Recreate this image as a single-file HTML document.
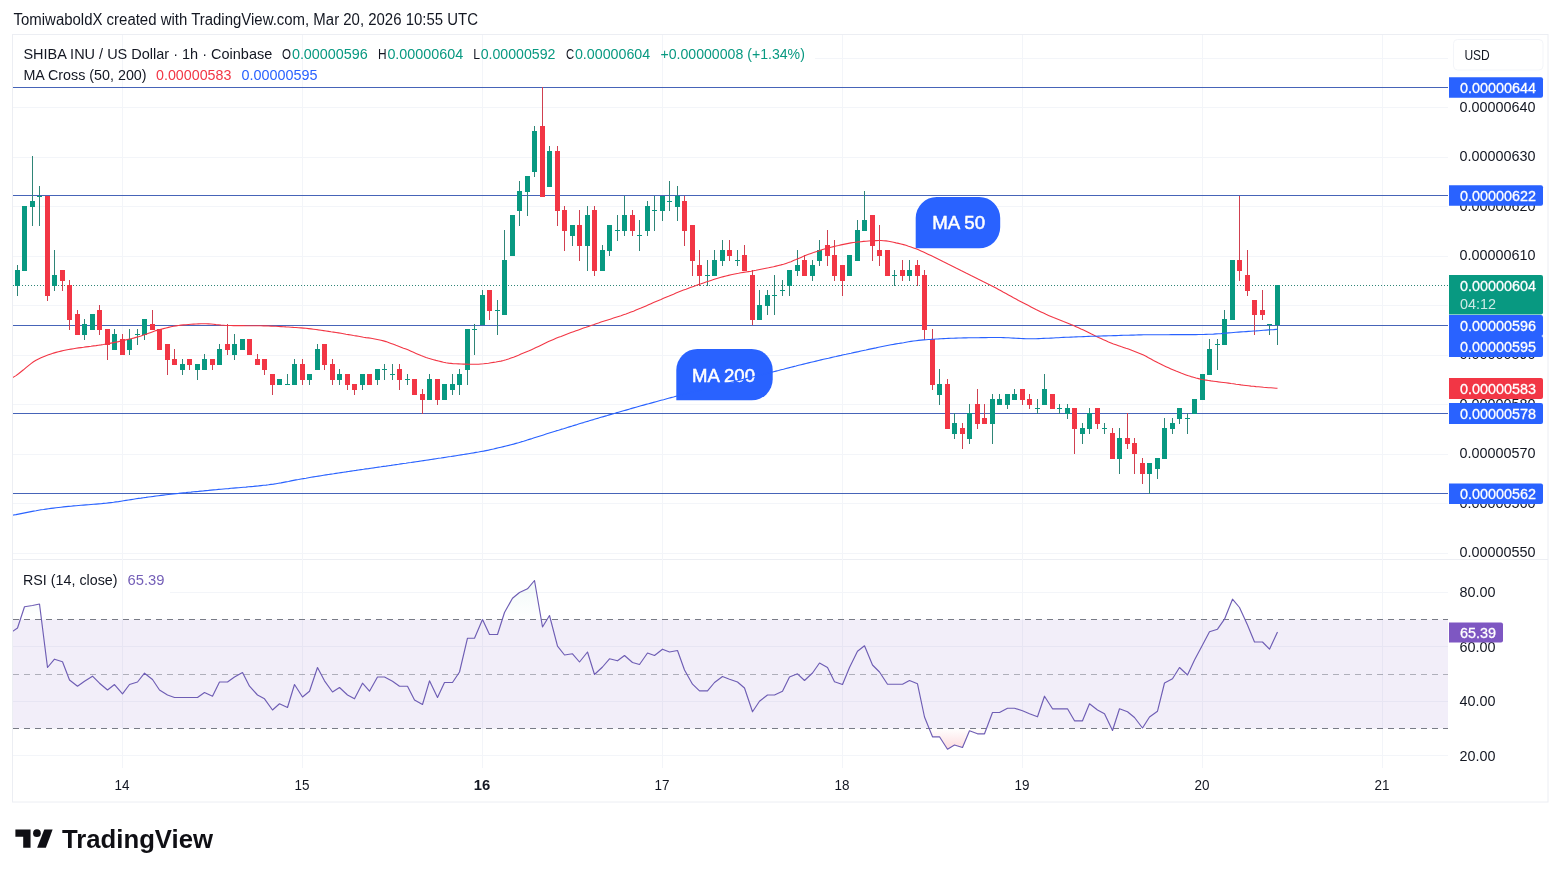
<!DOCTYPE html>
<html lang="en"><head><meta charset="utf-8"><title>SHIBA INU / US Dollar chart</title>
<style>html,body{margin:0;padding:0;background:#fff}svg{display:block}</style></head>
<body>
<svg width="1561" height="877" viewBox="0 0 1561 877" font-family="Liberation Sans, sans-serif" font-size="15" fill="#131722">
<rect width="1561" height="877" fill="#ffffff"/>
<defs><clipPath id="cp"><rect x="13" y="35" width="1435" height="524"/></clipPath><clipPath id="cr"><rect x="13" y="560" width="1435" height="208"/></clipPath><clipPath id="c70"><rect x="13" y="560" width="1435" height="59.5"/></clipPath><clipPath id="c30"><rect x="13" y="728.5" width="1435" height="40"/></clipPath><linearGradient id="gg" gradientUnits="userSpaceOnUse" x1="0" y1="537" x2="0" y2="619.5"><stop offset="0" stop-color="#089981" stop-opacity="0.12"/><stop offset="1" stop-color="#089981" stop-opacity="0"/></linearGradient><linearGradient id="gr" gradientUnits="userSpaceOnUse" x1="0" y1="728.5" x2="0" y2="810"><stop offset="0" stop-color="#f23645" stop-opacity="0"/><stop offset="1" stop-color="#f23645" stop-opacity="0.7"/></linearGradient></defs>
<rect x="12.5" y="34.5" width="1535.5" height="767.5" fill="none" stroke="#eceef3" stroke-width="1"/>
<line x1="13" y1="559.5" x2="1548" y2="559.5" stroke="#eceef3"/>
<path d="M122.5 35V768M302.5 35V768M482.5 35V768M662.5 35V768M842.5 35V768M1022.5 35V768M1202.5 35V768M1382.5 35V768M13 553.5H1448M13 503.5H1448M13 454.5H1448M13 404.5H1448M13 355.5H1448M13 305.5H1448M13 256.5H1448M13 206.5H1448M13 157.5H1448M13 107.5H1448M815 58.5H1448M170 592.5H1448M13 646.5H1448M13 701.5H1448M13 755.5H1448" stroke="#f3f5f9" stroke-width="1" fill="none"/>
<line x1="13" y1="87.5" x2="1448" y2="87.5" stroke="#4664b8" stroke-width="1"/>
<line x1="13" y1="195.5" x2="1448" y2="195.5" stroke="#4664b8" stroke-width="1"/>
<line x1="13" y1="325.5" x2="1448" y2="325.5" stroke="#4664b8" stroke-width="1"/>
<line x1="13" y1="413.5" x2="1448" y2="413.5" stroke="#4664b8" stroke-width="1"/>
<line x1="13" y1="493.5" x2="1448" y2="493.5" stroke="#4664b8" stroke-width="1"/>
<line x1="13" y1="285.5" x2="1448" y2="285.5" stroke="#2f8577" stroke-width="1" stroke-dasharray="1 2"/>
<path d="M915.7 248.3V218A21 21 0 0 1 936.7 197H979.2A21 21 0 0 1 1000.2 218V227.3A21 21 0 0 1 979.2 248.3Z" fill="#2962ff"/>
<text x="932.2" y="229" font-size="18.5" fill="#fff" stroke="#fff" stroke-width="0.5" textLength="52.89999999999998" lengthAdjust="spacingAndGlyphs">MA 50</text>
<path d="M676.3 400.3V370A21 21 0 0 1 697.3 349H751.7A21 21 0 0 1 772.7 370V379.3A21 21 0 0 1 751.7 400.3Z" fill="#2962ff"/>
<text x="692" y="382" font-size="18.5" fill="#fff" stroke="#fff" stroke-width="0.5" textLength="63" lengthAdjust="spacingAndGlyphs">MA 200</text>
<g clip-path="url(#cp)">
<path d="M17.5 265V296M24.5 206V271M32.5 156V226M39.5 186V226M54.5 250V291M84.5 319V340M92.5 314V330M114.5 329V350M129.5 329V355M137.5 329V345M144.5 319V340M182.5 359V375M197.5 364V380M204.5 354V370M219.5 344V365M234.5 334V360M242.5 339V350M279.5 379V385M287.5 374V385M294.5 359V385M309.5 374V385M317.5 344V370M339.5 369V385M362.5 374V390M377.5 369V385M384.5 364V380M392.5 364V380M407.5 374V385M429.5 374V400M444.5 384V400M452.5 374V395M459.5 369V395M467.5 329V385M474.5 324V355M482.5 290V325M497.5 300V335M504.5 230V315M512.5 215V256M519.5 181V226M527.5 176V216M534.5 126V177M549.5 146V187M572.5 225V246M587.5 206V271M602.5 245V271M609.5 225V256M617.5 215V241M624.5 196V236M639.5 220V251M647.5 201V236M654.5 196V231M662.5 196V221M669.5 181V211M677.5 186V221M707.5 260V286M714.5 250V276M722.5 240V266M737.5 250V266M759.5 290V320M767.5 290V315M774.5 275V315M782.5 280V296M789.5 270V296M797.5 250V276M812.5 260V281M819.5 240V266M849.5 255V276M857.5 220V261M864.5 191V231M894.5 270V286M909.5 260V281M939.5 369V405M954.5 413V439M969.5 404V444M992.5 394V444M999.5 394V405M1007.5 394V409M1014.5 389V400M1037.5 399V414M1044.5 374V405M1059.5 404V414M1067.5 404V419M1082.5 423V444M1089.5 408V434M1104.5 423V434M1119.5 428V474M1149.5 463V494M1157.5 458V479M1164.5 418V459M1172.5 418V434M1179.5 408V424M1187.5 413V434M1194.5 399V414M1202.5 374V400M1209.5 339V375M1217.5 339V370M1224.5 310V345M1232.5 260V320M1269.5 324V335M1277.5 285V345" stroke="#2f8577" stroke-width="1" fill="none"/>
<path d="M47.5 196V301M62.5 270V291M69.5 280V330M77.5 310V335M99.5 305V335M107.5 329V360M122.5 334V355M152.5 310V330M159.5 329V350M167.5 344V375M174.5 349V365M189.5 359V370M212.5 359V370M227.5 324V355M249.5 339V355M257.5 354V365M264.5 359V375M272.5 374V395M302.5 359V385M324.5 344V370M332.5 359V385M347.5 374V390M354.5 384V395M369.5 374V385M399.5 364V390M414.5 379V395M422.5 389V414M437.5 379V405M489.5 290V320M542.5 87V197M557.5 146V226M564.5 206V251M579.5 210V261M594.5 206V276M632.5 210V236M684.5 196V246M692.5 225V276M699.5 250V286M729.5 240V261M744.5 245V271M752.5 270V325M804.5 255V276M827.5 230V266M834.5 240V281M842.5 265V296M872.5 215V261M879.5 225V266M887.5 250V276M902.5 260V281M917.5 260V286M924.5 270V340M932.5 329V390M947.5 379V429M962.5 423V449M977.5 389V429M984.5 404V424M1022.5 389V405M1029.5 394V409M1052.5 394V409M1074.5 408V454M1097.5 408V429M1112.5 428V459M1127.5 413V449M1134.5 438V474M1142.5 458V484M1239.5 196V281M1247.5 250V296M1254.5 300V335M1262.5 290V320" stroke="#d04050" stroke-width="1" fill="none"/>
<path d="M15.0 270h5V286h-5ZM22.0 206h5V271h-5ZM30.0 201h5V207h-5ZM37.0 196h5V197h-5ZM52.0 275h5V286h-5ZM82.0 324h5V335h-5ZM90.0 314h5V330h-5ZM112.0 334h5V350h-5ZM127.0 339h5V350h-5ZM135.0 334h5V335h-5ZM142.0 319h5V335h-5ZM180.0 364h5V370h-5ZM195.0 364h5V370h-5ZM202.0 359h5V370h-5ZM217.0 349h5V365h-5ZM232.0 344h5V355h-5ZM240.0 339h5V350h-5ZM277.0 379h5V385h-5ZM285.0 384h5V385h-5ZM292.0 364h5V385h-5ZM307.0 374h5V380h-5ZM315.0 349h5V370h-5ZM337.0 374h5V380h-5ZM360.0 374h5V385h-5ZM375.0 369h5V380h-5ZM382.0 369h5V370h-5ZM390.0 374h5V375h-5ZM405.0 379h5V380h-5ZM427.0 379h5V400h-5ZM442.0 384h5V400h-5ZM450.0 384h5V390h-5ZM457.0 374h5V385h-5ZM465.0 329h5V370h-5ZM472.0 329h5V330h-5ZM480.0 295h5V325h-5ZM495.0 310h5V311h-5ZM502.0 260h5V315h-5ZM510.0 215h5V256h-5ZM517.0 191h5V211h-5ZM525.0 176h5V192h-5ZM532.0 131h5V172h-5ZM547.0 151h5V187h-5ZM570.0 225h5V236h-5ZM585.0 215h5V246h-5ZM600.0 250h5V271h-5ZM607.0 225h5V251h-5ZM615.0 230h5V231h-5ZM622.0 215h5V231h-5ZM637.0 235h5V236h-5ZM645.0 206h5V231h-5ZM652.0 210h5V211h-5ZM660.0 196h5V211h-5ZM667.0 201h5V202h-5ZM675.0 196h5V207h-5ZM705.0 275h5V276h-5ZM712.0 260h5V276h-5ZM720.0 250h5V261h-5ZM735.0 260h5V261h-5ZM757.0 305h5V320h-5ZM765.0 295h5V306h-5ZM772.0 295h5V296h-5ZM780.0 290h5V291h-5ZM787.0 270h5V286h-5ZM795.0 265h5V271h-5ZM810.0 265h5V276h-5ZM817.0 250h5V261h-5ZM847.0 255h5V276h-5ZM855.0 230h5V261h-5ZM862.0 220h5V231h-5ZM892.0 275h5V276h-5ZM907.0 270h5V276h-5ZM937.0 384h5V395h-5ZM952.0 423h5V434h-5ZM967.0 413h5V439h-5ZM990.0 399h5V424h-5ZM997.0 399h5V405h-5ZM1005.0 394h5V405h-5ZM1012.0 394h5V400h-5ZM1035.0 408h5V409h-5ZM1042.0 389h5V405h-5ZM1057.0 408h5V409h-5ZM1065.0 408h5V414h-5ZM1080.0 428h5V434h-5ZM1087.0 413h5V429h-5ZM1102.0 428h5V429h-5ZM1117.0 438h5V459h-5ZM1147.0 463h5V474h-5ZM1155.0 458h5V469h-5ZM1162.0 428h5V459h-5ZM1170.0 423h5V429h-5ZM1177.0 408h5V419h-5ZM1185.0 418h5V419h-5ZM1192.0 399h5V414h-5ZM1200.0 374h5V400h-5ZM1207.0 349h5V375h-5ZM1215.0 344h5V345h-5ZM1222.0 319h5V345h-5ZM1230.0 260h5V320h-5ZM1267.0 324h5V325h-5ZM1275.0 285h5V325h-5Z" fill="#089981"/>
<path d="M45.0 196h5V296h-5ZM60.0 270h5V281h-5ZM67.0 285h5V320h-5ZM75.0 314h5V335h-5ZM97.0 310h5V330h-5ZM105.0 329h5V345h-5ZM120.0 339h5V355h-5ZM150.0 324h5V330h-5ZM157.0 329h5V350h-5ZM165.0 344h5V360h-5ZM172.0 359h5V365h-5ZM187.0 359h5V365h-5ZM210.0 359h5V365h-5ZM225.0 344h5V350h-5ZM247.0 339h5V355h-5ZM255.0 359h5V365h-5ZM262.0 359h5V370h-5ZM270.0 374h5V385h-5ZM300.0 364h5V380h-5ZM322.0 344h5V365h-5ZM330.0 364h5V380h-5ZM345.0 374h5V385h-5ZM352.0 384h5V390h-5ZM367.0 374h5V385h-5ZM397.0 369h5V380h-5ZM412.0 379h5V395h-5ZM420.0 394h5V400h-5ZM435.0 379h5V400h-5ZM487.0 290h5V311h-5ZM540.0 126h5V197h-5ZM555.0 151h5V211h-5ZM562.0 210h5V231h-5ZM577.0 225h5V246h-5ZM592.0 210h5V271h-5ZM630.0 215h5V231h-5ZM682.0 201h5V231h-5ZM690.0 225h5V261h-5ZM697.0 265h5V276h-5ZM727.0 250h5V256h-5ZM742.0 255h5V271h-5ZM750.0 275h5V320h-5ZM802.0 260h5V276h-5ZM825.0 245h5V256h-5ZM832.0 255h5V276h-5ZM840.0 265h5V281h-5ZM870.0 215h5V246h-5ZM877.0 250h5V256h-5ZM885.0 250h5V276h-5ZM900.0 270h5V276h-5ZM915.0 265h5V276h-5ZM922.0 275h5V330h-5ZM930.0 339h5V385h-5ZM945.0 384h5V429h-5ZM960.0 428h5V434h-5ZM975.0 404h5V424h-5ZM982.0 418h5V424h-5ZM1020.0 389h5V400h-5ZM1027.0 399h5V405h-5ZM1050.0 394h5V409h-5ZM1072.0 408h5V429h-5ZM1095.0 408h5V424h-5ZM1110.0 433h5V459h-5ZM1125.0 438h5V444h-5ZM1132.0 443h5V454h-5ZM1140.0 463h5V474h-5ZM1237.0 260h5V271h-5ZM1245.0 275h5V291h-5ZM1252.0 300h5V315h-5ZM1260.0 310h5V315h-5Z" fill="#f23645"/>
<path d="M6.0 381.0L8.5 379.8L11.0 378.5L13.5 377.1L16.0 375.6L18.5 373.8L21.0 371.8L23.5 369.8L26.0 367.7L28.5 365.6L31.0 363.6L33.5 361.8L36.0 360.2L38.5 358.9L41.0 357.7L43.5 356.7L46.0 355.7L48.5 354.8L51.0 353.9L53.5 353.1L56.0 352.4L58.5 351.7L61.0 351.1L63.5 350.5L66.0 350.0L68.5 349.5L71.0 349.1L73.5 348.7L76.0 348.3L78.5 347.9L81.0 347.6L83.5 347.3L86.0 346.9L88.5 346.6L91.0 346.3L93.5 345.9L96.0 345.6L98.5 345.2L101.0 344.9L103.5 344.5L106.0 344.0L108.5 343.6L111.0 343.1L113.5 342.6L116.0 342.1L118.5 341.6L121.0 341.0L123.5 340.5L126.0 339.9L128.5 339.3L131.0 338.7L133.5 338.1L136.0 337.4L138.5 336.7L141.0 336.0L143.5 335.1L146.0 334.2L148.5 333.3L151.0 332.4L153.5 331.5L156.0 330.6L158.5 329.9L161.0 329.2L163.5 328.6L166.0 328.0L168.5 327.4L171.0 326.8L173.5 326.3L176.0 325.9L178.5 325.5L181.0 325.1L183.5 324.9L186.0 324.7L188.5 324.5L191.0 324.3L193.5 324.1L196.0 324.0L198.5 323.9L201.0 323.8L203.5 323.8L206.0 323.8L208.5 323.9L211.0 324.0L213.5 324.3L216.0 324.6L218.5 324.8L221.0 325.1L223.5 325.3L226.0 325.5L228.5 325.5L231.0 325.5L233.5 325.6L236.0 325.6L238.5 325.6L241.0 325.6L243.5 325.6L246.0 325.7L248.5 325.7L251.0 325.7L253.5 325.7L256.0 325.7L258.5 325.8L261.0 325.8L263.5 325.9L266.0 325.9L268.5 326.0L271.0 326.1L273.5 326.2L276.0 326.3L278.5 326.5L281.0 326.6L283.5 326.7L286.0 326.9L288.5 327.0L291.0 327.2L293.5 327.4L296.0 327.5L298.5 327.7L301.0 327.9L303.5 328.1L306.0 328.3L308.5 328.6L311.0 328.9L313.5 329.2L316.0 329.5L318.5 329.9L321.0 330.2L323.5 330.6L326.0 331.0L328.5 331.4L331.0 331.8L333.5 332.1L336.0 332.5L338.5 332.9L341.0 333.3L343.5 333.7L346.0 334.2L348.5 334.6L351.0 335.0L353.5 335.5L356.0 335.9L358.5 336.3L361.0 336.7L363.5 337.2L366.0 337.6L368.5 337.9L371.0 338.3L373.5 338.7L376.0 339.2L378.5 339.7L381.0 340.2L383.5 340.9L386.0 341.6L388.5 342.5L391.0 343.4L393.5 344.3L396.0 345.3L398.5 346.2L401.0 347.2L403.5 348.2L406.0 349.1L408.5 350.1L411.0 351.2L413.5 352.3L416.0 353.4L418.5 354.5L421.0 355.6L423.5 356.6L426.0 357.5L428.5 358.3L431.0 359.0L433.5 359.7L436.0 360.4L438.5 361.0L441.0 361.6L443.5 362.2L446.0 362.7L448.5 363.1L451.0 363.4L453.5 363.7L456.0 363.8L458.5 363.9L461.0 364.0L463.5 364.1L466.0 364.1L468.5 364.2L471.0 364.2L473.5 364.2L476.0 364.2L478.5 364.2L481.0 364.0L483.5 363.8L486.0 363.5L488.5 363.2L491.0 362.8L493.5 362.4L496.0 362.0L498.5 361.5L501.0 361.1L503.5 360.5L506.0 359.8L508.5 359.0L511.0 358.1L513.5 357.2L516.0 356.2L518.5 355.2L521.0 354.1L523.5 353.1L526.0 352.1L528.5 351.1L531.0 349.9L533.5 348.8L536.0 347.6L538.5 346.4L541.0 345.2L543.5 344.0L546.0 342.8L548.5 341.6L551.0 340.5L553.5 339.4L556.0 338.3L558.5 337.3L561.0 336.4L563.5 335.4L566.0 334.4L568.5 333.5L571.0 332.6L573.5 331.7L576.0 330.8L578.5 329.9L581.0 329.0L583.5 328.1L586.0 327.3L588.5 326.4L591.0 325.5L593.5 324.7L596.0 323.8L598.5 323.0L601.0 322.1L603.5 321.3L606.0 320.5L608.5 319.7L611.0 318.9L613.5 318.1L616.0 317.3L618.5 316.5L621.0 315.7L623.5 314.8L626.0 314.0L628.5 313.1L631.0 312.1L633.5 311.2L636.0 310.1L638.5 309.1L641.0 308.1L643.5 307.0L646.0 305.9L648.5 304.8L651.0 303.7L653.5 302.6L656.0 301.5L658.5 300.4L661.0 299.4L663.5 298.3L666.0 297.3L668.5 296.3L671.0 295.2L673.5 294.2L676.0 293.1L678.5 292.1L681.0 291.1L683.5 290.1L686.0 289.2L688.5 288.2L691.0 287.3L693.5 286.4L696.0 285.5L698.5 284.6L701.0 283.8L703.5 282.9L706.0 282.0L708.5 281.2L711.0 280.4L713.5 279.6L716.0 278.8L718.5 278.0L721.0 277.3L723.5 276.6L726.0 276.0L728.5 275.4L731.0 274.8L733.5 274.2L736.0 273.7L738.5 273.3L741.0 272.8L743.5 272.4L746.0 272.0L748.5 271.6L751.0 271.2L753.5 270.7L756.0 270.3L758.5 269.8L761.0 269.3L763.5 268.8L766.0 268.3L768.5 267.8L771.0 267.2L773.5 266.7L776.0 266.1L778.5 265.5L781.0 264.9L783.5 264.2L786.0 263.4L788.5 262.6L791.0 261.7L793.5 260.6L796.0 259.6L798.5 258.5L801.0 257.4L803.5 256.3L806.0 255.2L808.5 254.3L811.0 253.4L813.5 252.6L816.0 251.7L818.5 250.9L821.0 250.1L823.5 249.3L826.0 248.6L828.5 247.9L831.0 247.2L833.5 246.6L836.0 246.0L838.5 245.5L841.0 244.9L843.5 244.4L846.0 243.9L848.5 243.4L851.0 242.9L853.5 242.5L856.0 242.2L858.5 241.9L861.0 241.7L863.5 241.4L866.0 241.2L868.5 241.0L871.0 240.8L873.5 240.7L876.0 240.6L878.5 240.5L881.0 240.5L883.5 240.7L886.0 240.9L888.5 241.3L891.0 241.8L893.5 242.3L896.0 242.9L898.5 243.4L901.0 244.0L903.5 244.6L906.0 245.3L908.5 246.2L911.0 247.0L913.5 247.9L916.0 248.8L918.5 249.8L921.0 250.9L923.5 252.0L926.0 253.2L928.5 254.4L931.0 255.6L933.5 256.8L936.0 258.0L938.5 259.2L941.0 260.4L943.5 261.7L946.0 262.9L948.5 264.2L951.0 265.4L953.5 266.7L956.0 268.0L958.5 269.2L961.0 270.5L963.5 271.7L966.0 273.0L968.5 274.2L971.0 275.5L973.5 276.7L976.0 277.9L978.5 279.2L981.0 280.4L983.5 281.7L986.0 282.9L988.5 284.2L991.0 285.5L993.5 286.8L996.0 288.1L998.5 289.4L1001.0 290.8L1003.5 292.2L1006.0 293.5L1008.5 294.9L1011.0 296.3L1013.5 297.7L1016.0 299.0L1018.5 300.4L1021.0 301.7L1023.5 303.0L1026.0 304.3L1028.5 305.6L1031.0 306.9L1033.5 308.2L1036.0 309.5L1038.5 310.7L1041.0 311.9L1043.5 313.1L1046.0 314.3L1048.5 315.4L1051.0 316.5L1053.5 317.6L1056.0 318.6L1058.5 319.6L1061.0 320.6L1063.5 321.6L1066.0 322.5L1068.5 323.5L1071.0 324.6L1073.5 325.6L1076.0 326.7L1078.5 327.8L1081.0 329.0L1083.5 330.1L1086.0 331.3L1088.5 332.5L1091.0 333.8L1093.5 335.0L1096.0 336.2L1098.5 337.4L1101.0 338.5L1103.5 339.7L1106.0 340.8L1108.5 341.9L1111.0 342.9L1113.5 343.9L1116.0 344.8L1118.5 345.7L1121.0 346.6L1123.5 347.4L1126.0 348.3L1128.5 349.1L1131.0 350.0L1133.5 350.9L1136.0 351.9L1138.5 352.9L1141.0 353.9L1143.5 355.1L1146.0 356.3L1148.5 357.7L1151.0 359.0L1153.5 360.4L1156.0 361.7L1158.5 363.1L1161.0 364.3L1163.5 365.6L1166.0 366.7L1168.5 367.8L1171.0 368.9L1173.5 370.0L1176.0 371.1L1178.5 372.1L1181.0 373.1L1183.5 374.0L1186.0 374.9L1188.5 375.8L1191.0 376.6L1193.5 377.3L1196.0 378.0L1198.5 378.6L1201.0 379.2L1203.5 379.7L1206.0 380.1L1208.5 380.5L1211.0 380.9L1213.5 381.2L1216.0 381.5L1218.5 381.9L1221.0 382.2L1223.5 382.5L1226.0 382.8L1228.5 383.1L1231.0 383.5L1233.5 383.8L1236.0 384.2L1238.5 384.5L1241.0 384.9L1243.5 385.2L1246.0 385.5L1248.5 385.8L1251.0 386.1L1253.5 386.3L1256.0 386.6L1258.5 386.8L1261.0 387.0L1263.5 387.3L1266.0 387.5L1268.5 387.7L1271.0 387.8L1273.5 388.0L1276.0 388.2L1277.5 388.2" stroke="#f23645" stroke-width="1.1" fill="none" stroke-linejoin="round"/>
<path d="M6.0 516.5L8.5 516.0L11.0 515.5L13.5 515.0L16.0 514.6L18.5 514.1L21.0 513.6L23.5 513.1L26.0 512.6L28.5 512.1L31.0 511.6L33.5 511.1L36.0 510.7L38.5 510.2L41.0 509.8L43.5 509.5L46.0 509.1L48.5 508.7L51.0 508.4L53.5 508.1L56.0 507.8L58.5 507.5L61.0 507.2L63.5 506.9L66.0 506.6L68.5 506.4L71.0 506.2L73.5 505.9L76.0 505.7L78.5 505.5L81.0 505.3L83.5 505.1L86.0 504.9L88.5 504.7L91.0 504.5L93.5 504.3L96.0 504.1L98.5 503.9L101.0 503.7L103.5 503.4L106.0 503.2L108.5 502.9L111.0 502.6L113.5 502.3L116.0 501.9L118.5 501.6L121.0 501.2L123.5 500.8L126.0 500.4L128.5 500.0L131.0 499.6L133.5 499.2L136.0 498.8L138.5 498.4L141.0 498.1L143.5 497.7L146.0 497.4L148.5 497.0L151.0 496.7L153.5 496.4L156.0 496.0L158.5 495.7L161.0 495.4L163.5 495.1L166.0 494.8L168.5 494.5L171.0 494.2L173.5 493.9L176.0 493.6L178.5 493.4L181.0 493.1L183.5 492.8L186.0 492.6L188.5 492.3L191.0 492.1L193.5 491.8L196.0 491.6L198.5 491.4L201.0 491.1L203.5 490.9L206.0 490.6L208.5 490.4L211.0 490.1L213.5 489.9L216.0 489.7L218.5 489.4L221.0 489.2L223.5 489.0L226.0 488.8L228.5 488.6L231.0 488.3L233.5 488.1L236.0 487.9L238.5 487.7L241.0 487.5L243.5 487.3L246.0 487.1L248.5 486.8L251.0 486.6L253.5 486.4L256.0 486.1L258.5 485.9L261.0 485.6L263.5 485.3L266.0 485.1L268.5 484.8L271.0 484.4L273.5 484.1L276.0 483.7L278.5 483.3L281.0 482.9L283.5 482.4L286.0 481.9L288.5 481.5L291.0 480.9L293.5 480.4L296.0 479.9L298.5 479.5L301.0 479.0L303.5 478.6L306.0 478.2L308.5 477.7L311.0 477.3L313.5 476.9L316.0 476.5L318.5 476.1L321.0 475.7L323.5 475.3L326.0 474.9L328.5 474.5L331.0 474.1L333.5 473.8L336.0 473.4L338.5 473.0L341.0 472.6L343.5 472.2L346.0 471.9L348.5 471.5L351.0 471.1L353.5 470.7L356.0 470.4L358.5 470.0L361.0 469.6L363.5 469.3L366.0 468.9L368.5 468.6L371.0 468.2L373.5 467.9L376.0 467.5L378.5 467.1L381.0 466.8L383.5 466.4L386.0 466.1L388.5 465.7L391.0 465.4L393.5 465.0L396.0 464.6L398.5 464.3L401.0 463.9L403.5 463.5L406.0 463.2L408.5 462.8L411.0 462.5L413.5 462.1L416.0 461.7L418.5 461.4L421.0 461.0L423.5 460.6L426.0 460.2L428.5 459.9L431.0 459.5L433.5 459.1L436.0 458.7L438.5 458.3L441.0 458.0L443.5 457.6L446.0 457.2L448.5 456.8L451.0 456.5L453.5 456.1L456.0 455.7L458.5 455.3L461.0 454.9L463.5 454.5L466.0 454.1L468.5 453.7L471.0 453.3L473.5 452.9L476.0 452.4L478.5 452.0L481.0 451.5L483.5 451.1L486.0 450.6L488.5 450.1L491.0 449.5L493.5 449.0L496.0 448.4L498.5 447.8L501.0 447.2L503.5 446.6L506.0 446.0L508.5 445.4L511.0 444.7L513.5 444.1L516.0 443.4L518.5 442.7L521.0 441.9L523.5 441.2L526.0 440.4L528.5 439.6L531.0 438.9L533.5 438.1L536.0 437.3L538.5 436.5L541.0 435.7L543.5 434.9L546.0 434.1L548.5 433.3L551.0 432.5L553.5 431.7L556.0 430.9L558.5 430.2L561.0 429.4L563.5 428.7L566.0 427.9L568.5 427.1L571.0 426.4L573.5 425.6L576.0 424.9L578.5 424.1L581.0 423.3L583.5 422.6L586.0 421.8L588.5 421.1L591.0 420.3L593.5 419.6L596.0 418.8L598.5 418.1L601.0 417.3L603.5 416.6L606.0 415.9L608.5 415.1L611.0 414.4L613.5 413.7L616.0 412.9L618.5 412.2L621.0 411.5L623.5 410.8L626.0 410.1L628.5 409.4L631.0 408.6L633.5 407.9L636.0 407.2L638.5 406.5L641.0 405.8L643.5 405.1L646.0 404.4L648.5 403.8L651.0 403.1L653.5 402.4L656.0 401.7L658.5 401.0L661.0 400.3L663.5 399.7L666.0 399.0L668.5 398.3L671.0 397.6L673.5 397.0L676.0 396.3L678.5 395.7L681.0 395.0L683.5 394.3L686.0 393.7L688.5 393.0L691.0 392.4L693.5 391.8L696.0 391.1L698.5 390.5L701.0 389.8L703.5 389.2L706.0 388.6L708.5 387.9L711.0 387.3L713.5 386.7L716.0 386.1L718.5 385.4L721.0 384.8L723.5 384.2L726.0 383.6L728.5 383.0L731.0 382.3L733.5 381.7L736.0 381.1L738.5 380.5L741.0 379.9L743.5 379.2L746.0 378.6L748.5 378.0L751.0 377.4L753.5 376.8L756.0 376.1L758.5 375.5L761.0 374.9L763.5 374.3L766.0 373.6L768.5 373.0L771.0 372.4L773.5 371.7L776.0 371.1L778.5 370.5L781.0 369.8L783.5 369.2L786.0 368.5L788.5 367.9L791.0 367.2L793.5 366.6L796.0 366.0L798.5 365.3L801.0 364.7L803.5 364.1L806.0 363.5L808.5 362.9L811.0 362.3L813.5 361.7L816.0 361.1L818.5 360.5L821.0 359.9L823.5 359.3L826.0 358.7L828.5 358.2L831.0 357.6L833.5 357.0L836.0 356.5L838.5 355.9L841.0 355.4L843.5 354.8L846.0 354.3L848.5 353.7L851.0 353.2L853.5 352.6L856.0 352.1L858.5 351.6L861.0 351.0L863.5 350.5L866.0 350.0L868.5 349.4L871.0 348.9L873.5 348.4L876.0 347.9L878.5 347.3L881.0 346.8L883.5 346.3L886.0 345.8L888.5 345.3L891.0 344.8L893.5 344.4L896.0 343.9L898.5 343.5L901.0 343.1L903.5 342.7L906.0 342.2L908.5 341.8L911.0 341.4L913.5 341.0L916.0 340.7L918.5 340.4L921.0 340.1L923.5 339.9L926.0 339.7L928.5 339.5L931.0 339.4L933.5 339.2L936.0 339.0L938.5 338.9L941.0 338.7L943.5 338.6L946.0 338.5L948.5 338.4L951.0 338.3L953.5 338.2L956.0 338.1L958.5 338.0L961.0 338.0L963.5 337.9L966.0 337.9L968.5 337.8L971.0 337.8L973.5 337.7L976.0 337.7L978.5 337.7L981.0 337.6L983.5 337.6L986.0 337.6L988.5 337.5L991.0 337.5L993.5 337.5L996.0 337.5L998.5 337.5L1001.0 337.5L1003.5 337.6L1006.0 337.7L1008.5 337.8L1011.0 338.0L1013.5 338.1L1016.0 338.3L1018.5 338.4L1021.0 338.5L1023.5 338.6L1026.0 338.7L1028.5 338.7L1031.0 338.7L1033.5 338.7L1036.0 338.7L1038.5 338.6L1041.0 338.5L1043.5 338.4L1046.0 338.3L1048.5 338.2L1051.0 338.1L1053.5 338.0L1056.0 337.8L1058.5 337.7L1061.0 337.5L1063.5 337.4L1066.0 337.3L1068.5 337.2L1071.0 337.1L1073.5 337.0L1076.0 336.9L1078.5 336.8L1081.0 336.7L1083.5 336.6L1086.0 336.5L1088.5 336.4L1091.0 336.3L1093.5 336.3L1096.0 336.2L1098.5 336.1L1101.0 336.0L1103.5 335.9L1106.0 335.9L1108.5 335.8L1111.0 335.7L1113.5 335.6L1116.0 335.6L1118.5 335.5L1121.0 335.4L1123.5 335.3L1126.0 335.3L1128.5 335.2L1131.0 335.1L1133.5 335.1L1136.0 335.0L1138.5 334.9L1141.0 334.9L1143.5 334.8L1146.0 334.8L1148.5 334.8L1151.0 334.7L1153.5 334.7L1156.0 334.7L1158.5 334.7L1161.0 334.7L1163.5 334.7L1166.0 334.7L1168.5 334.7L1171.0 334.6L1173.5 334.6L1176.0 334.6L1178.5 334.6L1181.0 334.6L1183.5 334.6L1186.0 334.6L1188.5 334.6L1191.0 334.6L1193.5 334.6L1196.0 334.6L1198.5 334.5L1201.0 334.5L1203.5 334.5L1206.0 334.4L1208.5 334.3L1211.0 334.2L1213.5 334.1L1216.0 333.9L1218.5 333.7L1221.0 333.6L1223.5 333.3L1226.0 333.1L1228.5 332.9L1231.0 332.7L1233.5 332.5L1236.0 332.3L1238.5 332.1L1241.0 331.9L1243.5 331.8L1246.0 331.6L1248.5 331.4L1251.0 331.2L1253.5 331.0L1256.0 330.9L1258.5 330.7L1261.0 330.5L1263.5 330.3L1266.0 330.1L1268.5 329.9L1271.0 329.7L1273.5 329.6L1276.0 329.4L1277.5 329.3" stroke="#2962ff" stroke-width="1.1" fill="none" stroke-linejoin="round"/>
</g>
<rect x="13" y="619.5" width="1435" height="109" fill="#7e57c2" opacity="0.1"/>
<path d="M13 619.5H1448M13 728.5H1448" stroke="#787b86" stroke-width="1" stroke-dasharray="6 5" fill="none"/>
<path d="M13 674.5H1448" stroke="#787b86" opacity="0.55" stroke-width="1" stroke-dasharray="6 5" fill="none"/>
<path d="M9.5 633.5L17.5 628.0L24.5 606.8L32.5 605.5L39.5 604.0L47.5 667.5L54.5 659.2L62.5 661.8L69.5 680.0L77.5 686.2L84.5 681.2L92.5 676.2L99.5 683.2L107.5 690.0L114.5 684.5L122.5 693.8L129.5 684.5L137.5 682.0L144.5 673.2L152.5 679.5L159.5 690.0L167.5 695.0L174.5 697.5L182.5 697.5L189.5 697.5L197.5 697.5L204.5 692.5L212.5 696.2L219.5 682.0L227.5 682.0L234.5 677.0L242.5 672.5L249.5 686.2L257.5 695.0L264.5 698.8L272.5 710.0L279.5 703.8L287.5 707.5L294.5 684.5L302.5 697.0L309.5 691.2L317.5 667.5L324.5 680.8L332.5 692.0L339.5 687.5L347.5 695.0L354.5 698.8L362.5 683.2L369.5 691.2L377.5 677.0L384.5 677.0L392.5 681.2L399.5 686.2L407.5 686.2L414.5 700.0L422.5 704.5L429.5 680.8L437.5 697.5L444.5 682.5L452.5 682.5L459.5 672.0L467.5 638.2L474.5 638.2L482.5 619.5L489.5 634.5L497.5 634.5L504.5 612.5L512.5 598.2L519.5 592.5L527.5 588.8L534.5 580.5L542.5 627.0L549.5 615.5L557.5 646.2L564.5 655.0L572.5 653.8L579.5 662.0L587.5 652.0L594.5 674.5L602.5 667.0L609.5 658.8L617.5 660.8L624.5 655.5L632.5 662.5L639.5 664.5L647.5 653.0L654.5 655.5L662.5 649.2L669.5 652.0L677.5 650.5L684.5 670.0L692.5 684.2L699.5 690.8L707.5 690.8L714.5 682.5L722.5 676.5L729.5 679.2L737.5 682.0L744.5 688.0L752.5 711.8L759.5 701.2L767.5 695.0L774.5 695.0L782.5 691.2L789.5 677.0L797.5 673.8L804.5 680.5L812.5 673.0L819.5 663.0L827.5 667.5L834.5 681.8L842.5 684.5L849.5 667.5L857.5 651.2L864.5 645.8L872.5 665.0L879.5 672.0L887.5 684.2L894.5 684.2L902.5 684.2L909.5 680.5L917.5 683.8L924.5 717.0L932.5 736.8L939.5 736.8L947.5 749.2L954.5 745.0L962.5 747.5L969.5 730.8L977.5 733.8L984.5 733.8L992.5 712.5L999.5 712.5L1007.5 708.2L1014.5 708.2L1022.5 710.8L1029.5 713.8L1037.5 716.8L1044.5 696.2L1052.5 708.8L1059.5 708.8L1067.5 708.8L1074.5 720.8L1082.5 720.8L1089.5 703.8L1097.5 710.0L1104.5 713.8L1112.5 730.5L1119.5 708.8L1127.5 711.8L1134.5 717.5L1142.5 728.0L1149.5 717.0L1157.5 711.2L1164.5 683.0L1172.5 678.8L1179.5 667.5L1187.5 675.0L1194.5 660.0L1202.5 645.0L1209.5 631.8L1217.5 629.2L1224.5 619.2L1232.5 599.2L1239.5 607.5L1247.5 625.0L1254.5 642.0L1262.5 642.0L1269.5 649.2L1277.5 632.0L1277.5 619.5L9.5 619.5Z" fill="url(#gg)" clip-path="url(#c70)"/>
<path d="M9.5 633.5L17.5 628.0L24.5 606.8L32.5 605.5L39.5 604.0L47.5 667.5L54.5 659.2L62.5 661.8L69.5 680.0L77.5 686.2L84.5 681.2L92.5 676.2L99.5 683.2L107.5 690.0L114.5 684.5L122.5 693.8L129.5 684.5L137.5 682.0L144.5 673.2L152.5 679.5L159.5 690.0L167.5 695.0L174.5 697.5L182.5 697.5L189.5 697.5L197.5 697.5L204.5 692.5L212.5 696.2L219.5 682.0L227.5 682.0L234.5 677.0L242.5 672.5L249.5 686.2L257.5 695.0L264.5 698.8L272.5 710.0L279.5 703.8L287.5 707.5L294.5 684.5L302.5 697.0L309.5 691.2L317.5 667.5L324.5 680.8L332.5 692.0L339.5 687.5L347.5 695.0L354.5 698.8L362.5 683.2L369.5 691.2L377.5 677.0L384.5 677.0L392.5 681.2L399.5 686.2L407.5 686.2L414.5 700.0L422.5 704.5L429.5 680.8L437.5 697.5L444.5 682.5L452.5 682.5L459.5 672.0L467.5 638.2L474.5 638.2L482.5 619.5L489.5 634.5L497.5 634.5L504.5 612.5L512.5 598.2L519.5 592.5L527.5 588.8L534.5 580.5L542.5 627.0L549.5 615.5L557.5 646.2L564.5 655.0L572.5 653.8L579.5 662.0L587.5 652.0L594.5 674.5L602.5 667.0L609.5 658.8L617.5 660.8L624.5 655.5L632.5 662.5L639.5 664.5L647.5 653.0L654.5 655.5L662.5 649.2L669.5 652.0L677.5 650.5L684.5 670.0L692.5 684.2L699.5 690.8L707.5 690.8L714.5 682.5L722.5 676.5L729.5 679.2L737.5 682.0L744.5 688.0L752.5 711.8L759.5 701.2L767.5 695.0L774.5 695.0L782.5 691.2L789.5 677.0L797.5 673.8L804.5 680.5L812.5 673.0L819.5 663.0L827.5 667.5L834.5 681.8L842.5 684.5L849.5 667.5L857.5 651.2L864.5 645.8L872.5 665.0L879.5 672.0L887.5 684.2L894.5 684.2L902.5 684.2L909.5 680.5L917.5 683.8L924.5 717.0L932.5 736.8L939.5 736.8L947.5 749.2L954.5 745.0L962.5 747.5L969.5 730.8L977.5 733.8L984.5 733.8L992.5 712.5L999.5 712.5L1007.5 708.2L1014.5 708.2L1022.5 710.8L1029.5 713.8L1037.5 716.8L1044.5 696.2L1052.5 708.8L1059.5 708.8L1067.5 708.8L1074.5 720.8L1082.5 720.8L1089.5 703.8L1097.5 710.0L1104.5 713.8L1112.5 730.5L1119.5 708.8L1127.5 711.8L1134.5 717.5L1142.5 728.0L1149.5 717.0L1157.5 711.2L1164.5 683.0L1172.5 678.8L1179.5 667.5L1187.5 675.0L1194.5 660.0L1202.5 645.0L1209.5 631.8L1217.5 629.2L1224.5 619.2L1232.5 599.2L1239.5 607.5L1247.5 625.0L1254.5 642.0L1262.5 642.0L1269.5 649.2L1277.5 632.0L1277.5 728.5L9.5 728.5Z" fill="url(#gr)" clip-path="url(#c30)"/>
<path d="M9.5 633.5L17.5 628.0L24.5 606.8L32.5 605.5L39.5 604.0L47.5 667.5L54.5 659.2L62.5 661.8L69.5 680.0L77.5 686.2L84.5 681.2L92.5 676.2L99.5 683.2L107.5 690.0L114.5 684.5L122.5 693.8L129.5 684.5L137.5 682.0L144.5 673.2L152.5 679.5L159.5 690.0L167.5 695.0L174.5 697.5L182.5 697.5L189.5 697.5L197.5 697.5L204.5 692.5L212.5 696.2L219.5 682.0L227.5 682.0L234.5 677.0L242.5 672.5L249.5 686.2L257.5 695.0L264.5 698.8L272.5 710.0L279.5 703.8L287.5 707.5L294.5 684.5L302.5 697.0L309.5 691.2L317.5 667.5L324.5 680.8L332.5 692.0L339.5 687.5L347.5 695.0L354.5 698.8L362.5 683.2L369.5 691.2L377.5 677.0L384.5 677.0L392.5 681.2L399.5 686.2L407.5 686.2L414.5 700.0L422.5 704.5L429.5 680.8L437.5 697.5L444.5 682.5L452.5 682.5L459.5 672.0L467.5 638.2L474.5 638.2L482.5 619.5L489.5 634.5L497.5 634.5L504.5 612.5L512.5 598.2L519.5 592.5L527.5 588.8L534.5 580.5L542.5 627.0L549.5 615.5L557.5 646.2L564.5 655.0L572.5 653.8L579.5 662.0L587.5 652.0L594.5 674.5L602.5 667.0L609.5 658.8L617.5 660.8L624.5 655.5L632.5 662.5L639.5 664.5L647.5 653.0L654.5 655.5L662.5 649.2L669.5 652.0L677.5 650.5L684.5 670.0L692.5 684.2L699.5 690.8L707.5 690.8L714.5 682.5L722.5 676.5L729.5 679.2L737.5 682.0L744.5 688.0L752.5 711.8L759.5 701.2L767.5 695.0L774.5 695.0L782.5 691.2L789.5 677.0L797.5 673.8L804.5 680.5L812.5 673.0L819.5 663.0L827.5 667.5L834.5 681.8L842.5 684.5L849.5 667.5L857.5 651.2L864.5 645.8L872.5 665.0L879.5 672.0L887.5 684.2L894.5 684.2L902.5 684.2L909.5 680.5L917.5 683.8L924.5 717.0L932.5 736.8L939.5 736.8L947.5 749.2L954.5 745.0L962.5 747.5L969.5 730.8L977.5 733.8L984.5 733.8L992.5 712.5L999.5 712.5L1007.5 708.2L1014.5 708.2L1022.5 710.8L1029.5 713.8L1037.5 716.8L1044.5 696.2L1052.5 708.8L1059.5 708.8L1067.5 708.8L1074.5 720.8L1082.5 720.8L1089.5 703.8L1097.5 710.0L1104.5 713.8L1112.5 730.5L1119.5 708.8L1127.5 711.8L1134.5 717.5L1142.5 728.0L1149.5 717.0L1157.5 711.2L1164.5 683.0L1172.5 678.8L1179.5 667.5L1187.5 675.0L1194.5 660.0L1202.5 645.0L1209.5 631.8L1217.5 629.2L1224.5 619.2L1232.5 599.2L1239.5 607.5L1247.5 625.0L1254.5 642.0L1262.5 642.0L1269.5 649.2L1277.5 632.0" stroke="#6e5db4" stroke-width="1.15" fill="none" stroke-linejoin="round" clip-path="url(#cr)"/>
<text x="13.5" y="25" textLength="464.5" lengthAdjust="spacingAndGlyphs" font-size="15.6" >TomiwaboldX created with TradingView.com, Mar 20, 2026 10:55 UTC</text>
<text x="23.4" y="59.3" textLength="248.9" lengthAdjust="spacingAndGlyphs" >SHIBA INU / US Dollar · 1h · Coinbase</text>
<text x="282" y="59.3" textLength="9" lengthAdjust="spacingAndGlyphs" >O</text>
<text x="291.9" y="59.3" textLength="75.9" lengthAdjust="spacingAndGlyphs" fill="#089981" >0.00000596</text>
<text x="378" y="59.3" textLength="8.6" lengthAdjust="spacingAndGlyphs" >H</text>
<text x="387.4" y="59.3" textLength="75.8" lengthAdjust="spacingAndGlyphs" fill="#089981" >0.00000604</text>
<text x="473.2" y="59.3" textLength="6.8" lengthAdjust="spacingAndGlyphs" >L</text>
<text x="480.7" y="59.3" textLength="74.8" lengthAdjust="spacingAndGlyphs" fill="#089981" >0.00000592</text>
<text x="566" y="59.3" textLength="8.2" lengthAdjust="spacingAndGlyphs" >C</text>
<text x="574.9" y="59.3" textLength="75.3" lengthAdjust="spacingAndGlyphs" fill="#089981" >0.00000604</text>
<text x="660.4" y="59.3" textLength="144.5" lengthAdjust="spacingAndGlyphs" fill="#089981" >+0.00000008 (+1.34%)</text>
<text x="23.4" y="80.3" textLength="123.2" lengthAdjust="spacingAndGlyphs" >MA Cross (50, 200)</text>
<text x="156" y="80.3" textLength="75.4" lengthAdjust="spacingAndGlyphs" fill="#f23645" >0.00000583</text>
<text x="241.6" y="80.3" textLength="75.9" lengthAdjust="spacingAndGlyphs" fill="#2962ff" >0.00000595</text>
<text x="23" y="585" textLength="94.5" lengthAdjust="spacingAndGlyphs" >RSI (14, close)</text>
<text x="127.5" y="585" textLength="37.0" lengthAdjust="spacingAndGlyphs" fill="#7560b8" >65.39</text>
<text x="1459.5" y="111.9" textLength="76.0" lengthAdjust="spacingAndGlyphs" >0.00000640</text>
<text x="1459.5" y="161.4" textLength="76.0" lengthAdjust="spacingAndGlyphs" >0.00000630</text>
<text x="1459.5" y="210.9" textLength="76.0" lengthAdjust="spacingAndGlyphs" >0.00000620</text>
<text x="1459.5" y="260.4" textLength="76.0" lengthAdjust="spacingAndGlyphs" >0.00000610</text>
<text x="1459.5" y="309.9" textLength="76.0" lengthAdjust="spacingAndGlyphs" >0.00000600</text>
<text x="1459.5" y="359.4" textLength="76.0" lengthAdjust="spacingAndGlyphs" >0.00000590</text>
<text x="1459.5" y="408.9" textLength="76.0" lengthAdjust="spacingAndGlyphs" >0.00000580</text>
<text x="1459.5" y="458.4" textLength="76.0" lengthAdjust="spacingAndGlyphs" >0.00000570</text>
<text x="1459.5" y="507.9" textLength="76.0" lengthAdjust="spacingAndGlyphs" >0.00000560</text>
<text x="1459.5" y="557.4" textLength="76.0" lengthAdjust="spacingAndGlyphs" >0.00000550</text>
<text x="1459.5" y="597.3" textLength="36.0" lengthAdjust="spacingAndGlyphs" >80.00</text>
<text x="1459.5" y="651.8" textLength="36.0" lengthAdjust="spacingAndGlyphs" >60.00</text>
<text x="1459.5" y="706.3" textLength="36.0" lengthAdjust="spacingAndGlyphs" >40.00</text>
<text x="1459.5" y="760.8" textLength="36.0" lengthAdjust="spacingAndGlyphs" >20.00</text>
<rect x="1453.5" y="39.5" width="89.5" height="30.5" rx="4" fill="#fff" stroke="#f3f5f9"/>
<text x="1464.4" y="59.6" textLength="25.4" lengthAdjust="spacingAndGlyphs" font-size="15.5" >USD</text>
<path d="M1449 77.25H1541a2 2 0 0 1 2 2V95.75a2 2 0 0 1 -2 2H1449Z" fill="#2962ff"/>
<text x="1460" y="92.5" textLength="76" lengthAdjust="spacingAndGlyphs" fill="#fff" stroke="#fff" stroke-width="0.3">0.00000644</text>
<path d="M1449 185.25H1541a2 2 0 0 1 2 2V203.75a2 2 0 0 1 -2 2H1449Z" fill="#2962ff"/>
<text x="1460" y="200.5" textLength="76" lengthAdjust="spacingAndGlyphs" fill="#fff" stroke="#fff" stroke-width="0.3">0.00000622</text>
<path d="M1449 275H1541a2 2 0 0 1 2 2V312.5a2 2 0 0 1 -2 2H1449Z" fill="#089981"/>
<text x="1460" y="290.5" textLength="76" lengthAdjust="spacingAndGlyphs" fill="#fff" stroke="#fff" stroke-width="0.3">0.00000604</text>
<text x="1460" y="308.5" textLength="36" lengthAdjust="spacingAndGlyphs" fill="#ffffff" opacity="0.8">04:12</text>
<path d="M1449 315H1541a2 2 0 0 1 2 2V334a2 2 0 0 1 -2 2H1449Z" fill="#2962ff"/>
<text x="1460" y="330.5" textLength="76" lengthAdjust="spacingAndGlyphs" fill="#fff" stroke="#fff" stroke-width="0.3">0.00000596</text>
<path d="M1449 336H1541a2 2 0 0 1 2 2V355a2 2 0 0 1 -2 2H1449Z" fill="#2962ff"/>
<text x="1460" y="351.5" textLength="76" lengthAdjust="spacingAndGlyphs" fill="#fff" stroke="#fff" stroke-width="0.3">0.00000595</text>
<path d="M1449 378H1541a2 2 0 0 1 2 2V397a2 2 0 0 1 -2 2H1449Z" fill="#f23645"/>
<text x="1460" y="393.5" textLength="76" lengthAdjust="spacingAndGlyphs" fill="#fff" stroke="#fff" stroke-width="0.3">0.00000583</text>
<path d="M1449 403H1541a2 2 0 0 1 2 2V422a2 2 0 0 1 -2 2H1449Z" fill="#2962ff"/>
<text x="1460" y="418.5" textLength="76" lengthAdjust="spacingAndGlyphs" fill="#fff" stroke="#fff" stroke-width="0.3">0.00000578</text>
<path d="M1449 483.5H1541a2 2 0 0 1 2 2V502a2 2 0 0 1 -2 2H1449Z" fill="#2962ff"/>
<text x="1460" y="498.7" textLength="76" lengthAdjust="spacingAndGlyphs" fill="#fff" stroke="#fff" stroke-width="0.3">0.00000562</text>
<path d="M1449 622.5H1501a2 2 0 0 1 2 2V640.5a2 2 0 0 1 -2 2H1449Z" fill="#7e57c2"/>
<text x="1460" y="637.5" textLength="36" lengthAdjust="spacingAndGlyphs" fill="#fff" stroke="#fff" stroke-width="0.3">65.39</text>
<text x="114.5" y="790" textLength="15.0" lengthAdjust="spacingAndGlyphs" >14</text>
<text x="294.5" y="790" textLength="15.0" lengthAdjust="spacingAndGlyphs" >15</text>
<text x="473.75" y="790" textLength="16.5" lengthAdjust="spacingAndGlyphs" font-weight="bold" >16</text>
<text x="654.5" y="790" textLength="15.0" lengthAdjust="spacingAndGlyphs" >17</text>
<text x="834.5" y="790" textLength="15.0" lengthAdjust="spacingAndGlyphs" >18</text>
<text x="1014.5" y="790" textLength="15.0" lengthAdjust="spacingAndGlyphs" >19</text>
<text x="1194.5" y="790" textLength="15.0" lengthAdjust="spacingAndGlyphs" >20</text>
<text x="1374.5" y="790" textLength="15.0" lengthAdjust="spacingAndGlyphs" >21</text>
<g fill="#0f0f14"><path d="M15.4 829.4H30.55V847.8H23.2V836.75H15.4Z"/><circle cx="36.93" cy="833.2" r="3.85"/><path d="M44.3 829.4H52.65L45.85 847.8H37.13Z"/></g>
<text x="62" y="848" textLength="151" lengthAdjust="spacingAndGlyphs" fill="#0f0f14" font-size="26" font-weight="bold" >TradingView</text>
</svg>
</body></html>
